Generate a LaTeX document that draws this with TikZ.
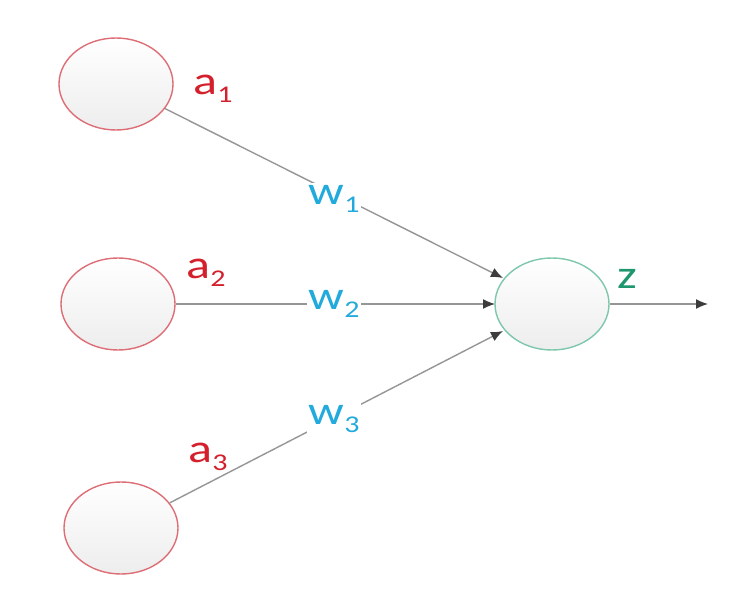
\documentclass[tikz,border=0pt]{standalone}
\usepackage{fontspec}
\usepackage{graphicx}
\setmainfont{Carlito}
\usetikzlibrary{arrows.meta,shapes.geometric}
\definecolor{inred}{RGB}{222,110,118}
\definecolor{outgreen}{RGB}{125,200,170}
\definecolor{labred}{RGB}{212,32,44}
\definecolor{labblue}{RGB}{35,170,220}
\definecolor{labgreen}{RGB}{30,150,110}
\definecolor{wire}{RGB}{150,150,150}
\definecolor{tipcol}{RGB}{60,60,60}
\newcommand{\lab}[2]{\scalebox{1.25}[1]{#1\raisebox{-0.2em}{\fontsize{24}{24}\selectfont #2}}}
\tikzset{
  neuron/.style={ellipse, minimum width=114pt, minimum height=92pt, line width=1.4pt, top color=white, bottom color=gray!14, shading angle=0},
  inneuron/.style={neuron, draw=inred},
  outneuron/.style={neuron, draw=outgreen},
  redlab/.style={text=labred, font=\fontsize{40}{40}\selectfont, inner sep=1pt},
  bluelab/.style={text=labblue, font=\fontsize{40}{40}\selectfont, fill=white, inner sep=2pt},
  greenlab/.style={text=labgreen, font=\fontsize{40}{40}\selectfont, inner sep=1pt},
  link/.style={draw=wire, line width=1.4pt, -{Latex[length=12pt,width=10pt,color=tipcol]}},
}
\begin{document}
\begin{tikzpicture}[x=1pt,y=1pt]
\useasboundingbox[fill=white] (0,0) rectangle (756,-607);
\node[inneuron] (n1) at (116,-84) {};
\node[inneuron] (n2) at (118,-304) {};
\node[inneuron] (n3) at (121,-528) {};
\node[outneuron] (nz) at (552,-304) {};
\coordinate (out) at (708,-304);
\coordinate (t1) at (503,-278);
\coordinate (t2) at (495,-304);
\coordinate (t3) at (503,-331);
\draw[link] (n1) -- (t1);
\draw[link] (n2) -- (t2);
\draw[link] (n3) -- (t3);
\draw[link] (nz) -- (out);
\node[bluelab] (w1) at (334,-199) {\lab{w}{1}};
\node[bluelab] (w2) at (334,-304) {\lab{w}{2}};
\node[bluelab] (w3) at (334,-419) {\lab{w}{3}};
\node[redlab] (a1) at (213,-89) {\lab{a}{1}};
\node[redlab] (a2) at (206,-273) {\lab{a}{2}};
\node[redlab] (a3) at (208,-457) {\lab{a}{3}};
\node[greenlab] (z) at (627,-279) {\scalebox{1.25}[1]{z}};
\end{tikzpicture}
\end{document}
